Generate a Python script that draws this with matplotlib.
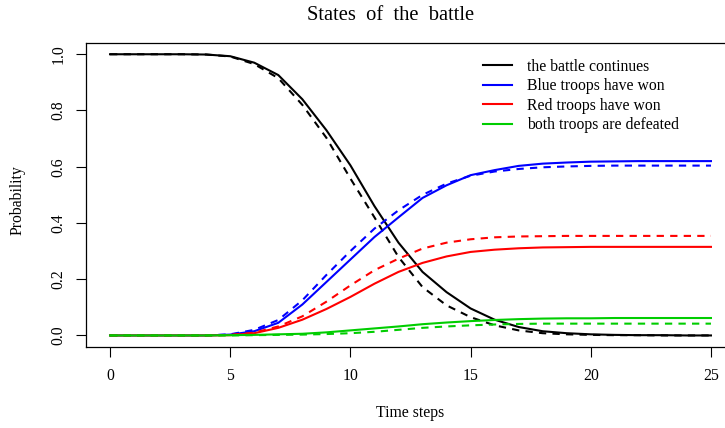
import matplotlib
matplotlib.use("Agg")
import matplotlib.pyplot as plt
import numpy as np

time_steps = list(range(26))

continues_solid = [1, 1, 1, 1, 0.999, 0.993, 0.97, 0.926, 0.84, 0.73, 0.605, 0.46, 0.33, 0.226,
                   0.154, 0.096, 0.056, 0.03, 0.015, 0.008, 0.004, 0.002, 0.001, 0.001, 0, 0]
continues_dashed = [1, 1, 1, 1, 0.999, 0.992, 0.965, 0.915, 0.82, 0.703, 0.558, 0.42, 0.279, 0.172,
                    0.107, 0.065, 0.036, 0.018, 0.008, 0.004, 0.002, 0.001, 0.001, 0, 0, 0]
blue_solid = [0, 0, 0, 0, 0, 0.003, 0.015, 0.045, 0.11, 0.19, 0.27, 0.35, 0.42, 0.489,
              0.534, 0.57, 0.588, 0.603, 0.611, 0.615, 0.618, 0.619, 0.62, 0.62, 0.62, 0.62]
blue_dashed = [0, 0, 0, 0, 0, 0.004, 0.02, 0.055, 0.125, 0.215, 0.30, 0.38, 0.445, 0.50,
               0.54, 0.568, 0.583, 0.592, 0.598, 0.601, 0.603, 0.604, 0.604, 0.604, 0.604, 0.604]
red_solid = [0, 0, 0, 0, 0, 0.001, 0.008, 0.027, 0.056, 0.094, 0.137, 0.184, 0.226, 0.258,
             0.281, 0.297, 0.305, 0.31, 0.313, 0.314, 0.315, 0.315, 0.315, 0.315, 0.315, 0.315]
red_dashed = [0, 0, 0, 0, 0, 0.002, 0.01, 0.032, 0.068, 0.12, 0.178, 0.232, 0.273, 0.309,
              0.33, 0.342, 0.349, 0.352, 0.353, 0.354, 0.354, 0.354, 0.354, 0.354, 0.354, 0.354]
green_solid = [0, 0, 0, 0, 0, 0.001, 0.002, 0.004, 0.006, 0.011, 0.018, 0.025, 0.032, 0.04,
               0.046, 0.051, 0.055, 0.058, 0.06, 0.061, 0.061, 0.062, 0.062, 0.062, 0.062, 0.062]
green_dashed = [0, 0, 0, 0, 0, 0, 0.001, 0.002, 0.003, 0.005, 0.008, 0.013, 0.02, 0.027,
                0.032, 0.036, 0.039, 0.041, 0.042, 0.042, 0.042, 0.042, 0.042, 0.042, 0.042, 0.042]

labels = ["the battle continues", "Blue troops have won",
          "Red troops have won", "both troops are defeated"]
x_ticks = [0, 5, 10, 15, 20, 25]
y_ticks = [0.0, 0.2, 0.4, 0.6, 0.8, 1.0]

colors = ["black", "#0000FF", "#FF0000", "#00CD00"]
solid = [continues_solid, blue_solid, red_solid, green_solid]
dashed = [continues_dashed, blue_dashed, red_dashed, green_dashed]

plt.rcParams['font.family'] = ['Liberation Serif', 'DejaVu Serif']

fig = plt.figure(figsize=(7.25, 4.28), dpi=100)
ax = fig.add_axes([86/725, 1 - 346.7/428, 649/725, 303.7/428])

lw = 1.5
handles = []
for s, d, c, lab in zip(solid, dashed, colors, labels):
    h, = ax.plot(time_steps, s, color=c, lw=lw, label=lab)
    ax.plot(time_steps, d, color=c, lw=lw, linestyle=(0, (3.5, 3)))
    handles.append(h)

ax.set_xlim(-1, 26)
ax.set_ylim(-0.04, 1.04)
ax.set_xticks(x_ticks)
ax.set_xticklabels([str(v) for v in x_ticks])
ax.set_yticks(y_ticks)
ax.set_yticklabels([f"{v:.1f}" for v in y_ticks], rotation=90, va='center')
ax.tick_params(direction='out', length=7, width=0.8, labelsize=11.3, pad=8)
ax.tick_params(axis='y', pad=7)
for sp in ax.spines.values():
    sp.set_linewidth(0.9)

fig.text(391/725, 1 - 16/428, "States  of  the  battle", ha='center', va='center', fontsize=14.8)
fig.text(410/725, 1 - 413/428, "Time steps", ha='center', va='center', fontsize=11.3)
fig.text(18/725, 1 - 200/428, "Probability", ha='center', va='center', rotation=90, fontsize=11.3)

leg = ax.legend(handles=handles, loc='upper left', bbox_to_anchor=(478/725, 1 - 54/428),
                bbox_transform=fig.transFigure, frameon=False, fontsize=11.3,
                handlelength=1.85, handletextpad=0.95, labelspacing=0.22, borderpad=0.3,
                borderaxespad=0)

fig.savefig("out.png", dpi=100)
